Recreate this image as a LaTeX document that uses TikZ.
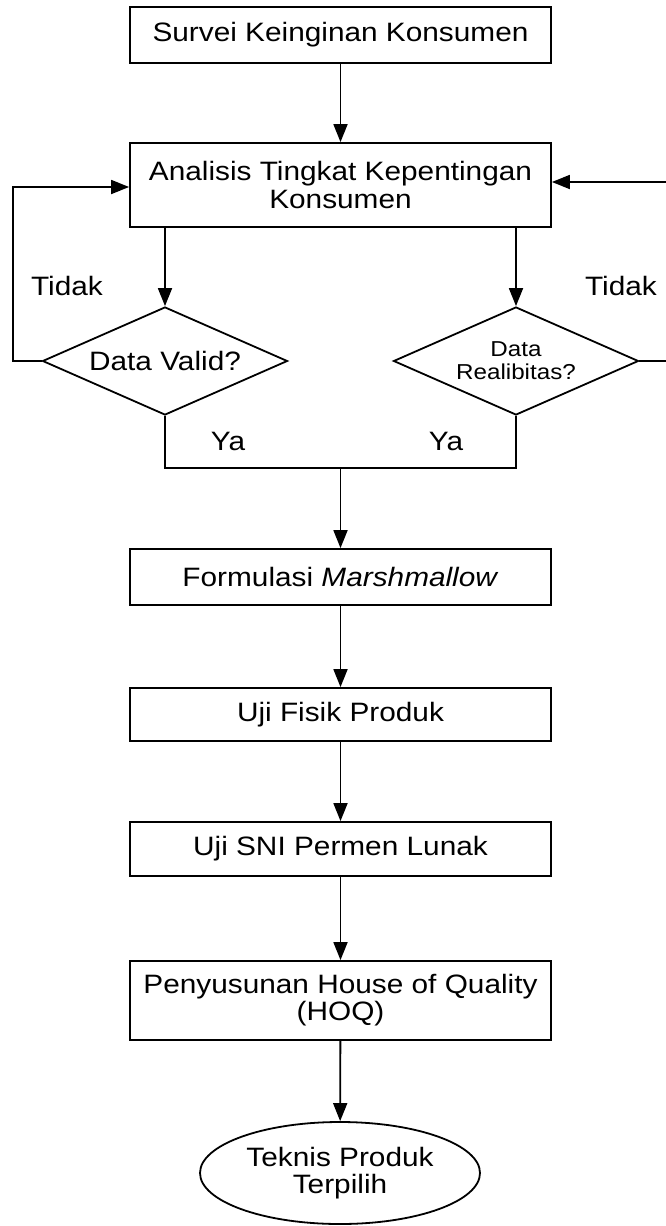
\documentclass[tikz,border=0pt]{standalone}
\usepackage{fontspec}
\setmainfont{Liberation Sans}[FakeStretch=1.12]
\usepackage{pgf,tikz}
\usetikzlibrary{shapes, arrows.meta, positioning}
\newcommand{\teks}{\fontsize{13.3}{13.6}\selectfont}
\newcommand{\tekskecil}{\fontsize{10.8}{11.5}\selectfont}
\tikzstyle{proses} = [draw=black, line width=0.9pt, rectangle, minimum width=210.5pt, minimum height=28pt, inner sep=0pt, align=center, font=\teks]
\tikzstyle{keputusan} = [draw=black, line width=0.9pt, diamond, aspect=2.27, minimum width=122.5pt, minimum height=54pt, inner sep=0pt, align=center, font=\teks]
\tikzstyle{akhir} = [draw=black, line width=0.9pt, ellipse, minimum width=140pt, minimum height=51pt, inner sep=0pt, align=center, font=\teks]
\tikzstyle{panah} = [line width=0.9pt, -{Triangle[length=9pt, width=7pt]}]
\tikzstyle{garis} = [line width=0.9pt]
\tikzstyle{label} = [font=\teks, inner sep=0pt]

\begin{document}
\begin{tikzpicture}[x=0.5pt, y=-0.5pt]
	\useasboundingbox (0,0) rectangle (665,1226);
	\node [proses] (survei) at (340.5,35) {Survei Keinginan Konsumen};
	\node [proses, minimum height=42pt] (analisis) at (340.5,185) {Analisis Tingkat Kepentingan\\Konsumen};
	\node [keputusan] (valid) at (165,361) {Data Valid?};
	\node [keputusan, font=\tekskecil] (reliab) at (516,361) {Data\\Realibitas?};
	\coordinate (gabung) at (340.5,468);
	\node [proses] (formulasi) at (340.5,577) {Formulasi \textit{Marshmallow}};
	\node [proses, minimum height=26.5pt] (fisik) at (340.5,714.5) {Uji Fisik Produk};
	\node [proses, minimum height=27pt] (sni) at (340.5,849) {Uji SNI Permen Lunak};
	\node [proses, minimum height=39.5pt] (hoq) at (340.5,1000.5) {Penyusunan House of Quality\\(HOQ)};
	\node [akhir] (teknis) at (340,1173) {Teknis Produk\\Terpilih};
	% alur utama
	\draw [panah] (survei) -- (analisis);
	\draw [panah] (analisis.south -| valid.north) -- (valid.north);
	\draw [panah] (analisis.south -| reliab.north) -- (reliab.north);
	\draw [garis] (valid.south) |- (gabung) -| (reliab.south);
	\draw [panah] (gabung) -- (formulasi);
	\draw [panah] (formulasi) -- (fisik);
	\draw [panah] (fisik) -- (sni);
	\draw [panah] (sni) -- (hoq);
	\draw [panah] (hoq) -- (teknis);
	% umpan balik
	\coordinate (kiri) at (13,361);
	\coordinate (kanan) at (668,361);
	\draw [panah] (valid.west) -- (kiri) |- ([yshift=-1pt]analisis.west);
	\draw [panah] (reliab.east) -- (kanan) |- ([yshift=1.5pt]analisis.east);
	% keterangan
	\node [label] (tidak1) at (67,286) {Tidak};
	\node [label] (tidak2) at (621,286) {Tidak};
	\node [label] (ya1) at (228,441) {Ya};
	\node [label] (ya2) at (446,441) {Ya};
\end{tikzpicture}
\end{document}
